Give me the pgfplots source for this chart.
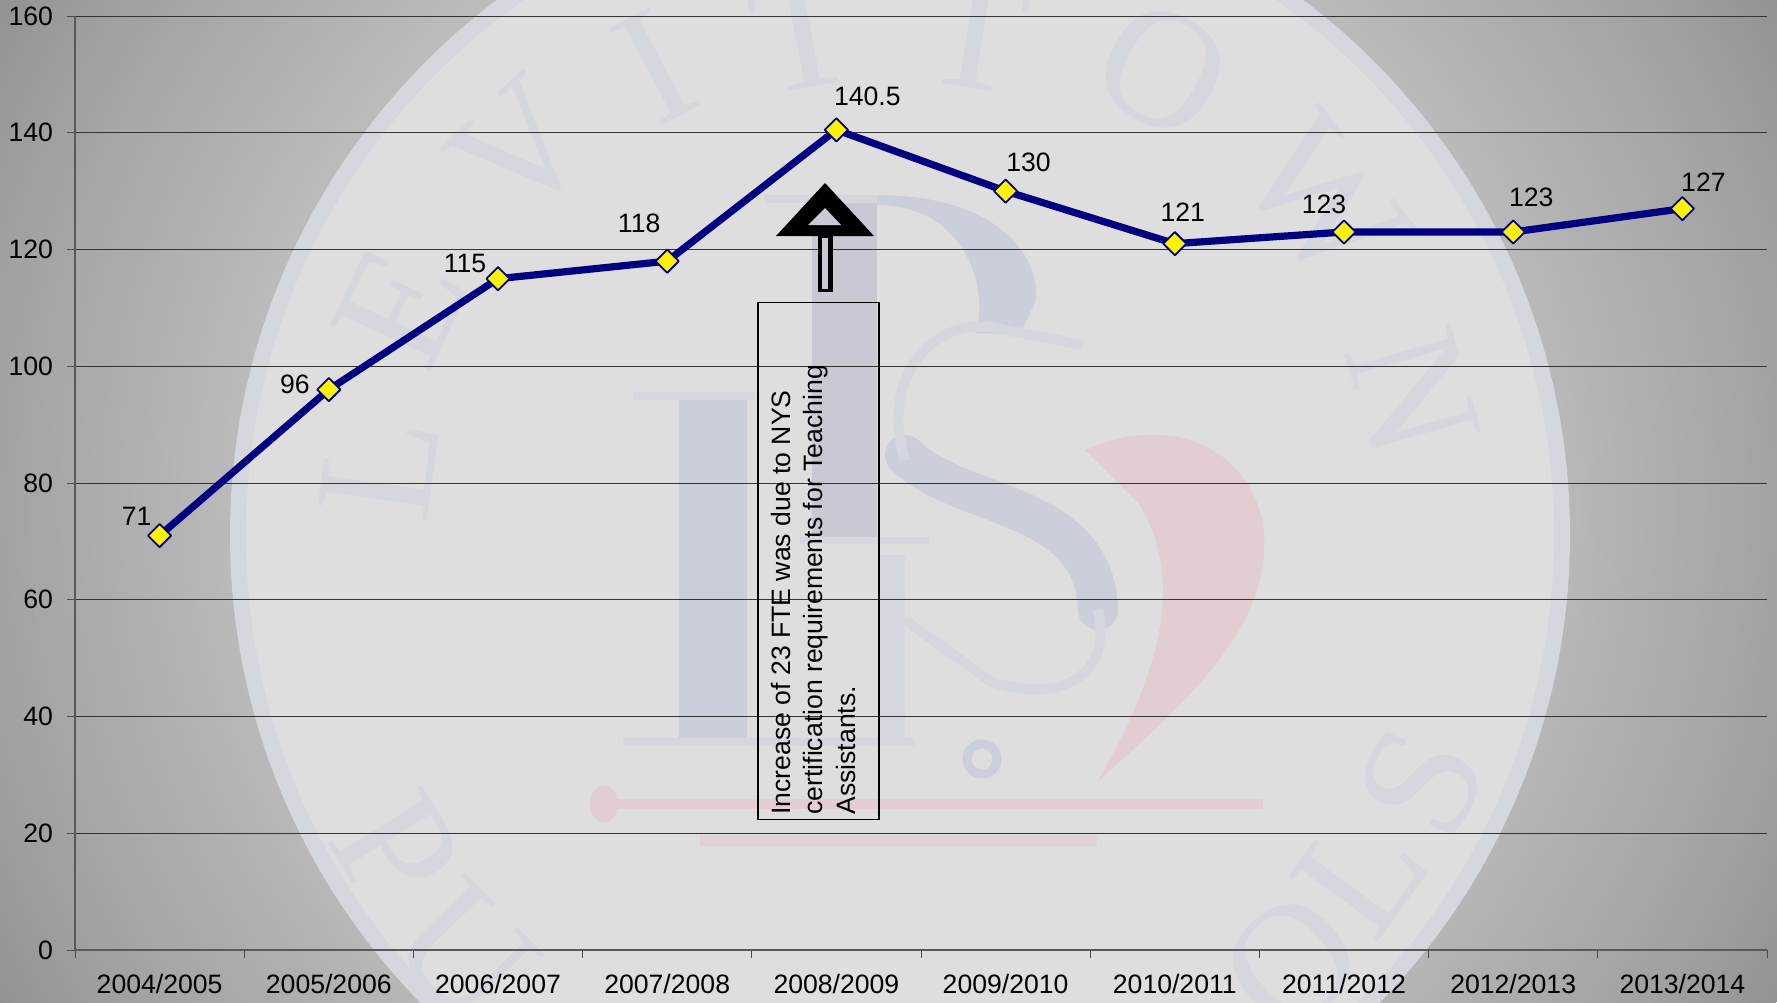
\documentclass[border=0pt]{standalone}
\usepackage{pgfplots}
\pgfplotsset{compat=1.18}
\usepackage{fontspec}
\setmainfont{Liberation Sans}
\newfontfamily\wmfont{Liberation Serif}
\usetikzlibrary{plotmarks}
\definecolor{navyl}{HTML}{000080}
\definecolor{wmblue}{HTML}{CBCFD9}
\definecolor{wmblue2}{HTML}{D5D7DE}
\definecolor{wmred}{HTML}{E2CDD0}
\definecolor{disc}{HTML}{DEDEDE}
\definecolor{arrin}{HTML}{C9C9D4}
\definecolor{bga}{HTML}{DFDFDF}
\definecolor{bgb}{HTML}{D0D0D0}
\definecolor{bgc}{HTML}{BABABA}
\definecolor{bgd}{HTML}{B2B2B2}
\definecolor{bge}{HTML}{A0A0A0}
\definecolor{bgf}{HTML}{929292}
\pgfdeclareradialshading{bgshade}{\pgfpointorigin}{%
 color(0bp)=(bga);
 color(10bp)=(bgb);
 color(16.2bp)=(bgc);
 color(17.9bp)=(bgd);
 color(22.5bp)=(bge);
 color(25bp)=(bgf);
 color(50bp)=(bgf)}
\pgfplotstableread{
x y dx dy lab
0 71 -11.5 9.5 71
1 96 -17 2.5 96
2 115 -16.5 7.5 115
3 118 -14 19 118
4 140.5 15.5 16.5 140.5
5 130 11.5 14.5 130
6 121 4 15.5 121
7 123 -10 14 123
8 123 9 17.5 123
9 127 10.5 13 127
}\datatable
\newcommand{\wm}[3]{\node[text=wmblue2,font=\wmfont\fontsize{84}{84}\selectfont,rotate=#2,inner sep=0pt] at (#1) {#3};}
\begin{document}
\begin{tikzpicture}[x=0.5pt,y=-0.5pt]
\useasboundingbox (0,0) rectangle (1777,1002);
% background
\begin{scope}
\clip (0,0) rectangle (1777,1002);
\shade[shading=bgshade] (888,501) circle (1020);
% seal
\fill[wmblue2] (900,535) circle (670);
\fill[disc] (900,535) circle (654);
\wm{379,467}{82}{L}\wm{400,307}{65}{E}\wm{521,150}{44}{V}\wm{655,67}{28}{I}
\wm{803,33}{11}{T}\wm{976,33}{-9}{T}\wm{1163,70}{-29}{O}\wm{1324,200}{-52}{W}\wm{1413,393}{-74}{N}
\wm{397,850}{-58}{P}\wm{465,952}{-46}{U}\wm{1422,782}{65}{S}\wm{1360,873}{54}{L}\wm{1292,963}{42}{O}
% L
\fill[wmblue] (679,396) rectangle (747,741);
\fill[wmblue2] (633,392) rectangle (754,400);
\fill[wmblue2] (623,738) rectangle (914,746);
\fill[wmblue2] (880,555) rectangle (905,738);
% P
\fill[arrin] (812,195) rectangle (877,537);
\fill[wmblue2] (765,195) rectangle (877,203);
\fill[wmblue2] (800,537) rectangle (930,544);
\fill[wmblue] (877,195) .. controls (990,195) and (1040,250) .. (1036,300) -- (1020,335) -- (976,333) .. controls (990,280) and (960,205) .. (877,205) -- cycle;
% S
\draw[wmblue,line width=20pt,line cap=round] (905,455) .. controls (960,510) and (1095,500) .. (1098,610);
\draw[wmblue2,line width=5pt] (905,460) .. controls (880,380) and (930,320) .. (990,327) -- (1083,345);
\draw[wmblue2,line width=5pt] (1098,610) .. controls (1115,690) and (1040,700) .. (990,681) -- (905,620);
% swoosh
\fill[wmred] (1085,450) .. controls (1150,420) and (1240,430) .. (1263,522)
  .. controls (1275,620) and (1200,690) .. (1098,781) .. controls (1150,690) and (1190,590) .. (1140,505) -- cycle;
\fill[wmred] (604,799) rectangle (1263,809);
\fill[wmred] (604,804) ellipse (14 and 18);
\fill[wmred!70!disc] (700,835) rectangle (1097,846);
\draw[wmblue,line width=4.5pt] (982,759) circle (15);
\end{scope}
\begin{axis}[
  at={(37.5pt,-475pt)},anchor=south west,scale only axis,
  width=846pt,height=467pt,
  xmin=-0.5,xmax=9.5,ymin=0,ymax=160,
  axis x line=bottom,axis y line=left,
  axis line style={-,color=black!65,line width=0.85pt},
  xtick={0,...,9},
  xticklabels={2004/2005,2005/2006,2006/2007,2007/2008,2008/2009,2009/2010,2010/2011,2011/2012,2012/2013,2013/2014},
  minor xtick={-0.5,0.5,1.5,2.5,3.5,4.5,5.5,6.5,7.5,8.5,9.5},
  major x tick style={draw=none},
  minor x tick style={color=black!70,line width=0.4pt},
  minor tick length=4pt,
  tick align=outside,
  ytick={0,20,...,160},
  major tick length=4pt,
  y tick style={color=black!70,line width=0.5pt},
  ymajorgrids,
  grid style={color=black!80,line width=0.5pt},
  tick label style={font=\fontsize{13.3}{15}\selectfont,text=black},
  /pgf/number format/assume math mode=true,
  xticklabel style={yshift=-4.5pt},
  yticklabel style={xshift=-3.5pt},
  clip=false,
]
\addplot[
  color=navyl,line width=3.6pt,line join=round,
  mark=square*,mark size=4.1pt,
  mark options={fill=yellow,draw=navyl,line width=0.9pt,solid,rotate=45},
  point meta=explicit symbolic,
  visualization depends on={\thisrow{dx}\as\dxv},
  visualization depends on={\thisrow{dy}\as\dyv},
  nodes near coords,
  nodes near coords style={anchor=center,inner sep=0pt,xshift=\dxv pt,yshift=\dyv pt,text=black,font=\fontsize{13.3}{15}\selectfont},
] table[x=x,y=y,meta=lab] {\datatable};
\end{axis}
% arrow and note
\fill[black] (825,183) -- (874,236) -- (776,236) -- cycle;
\fill[arrin] (825,208) -- (841,225) -- (808,225) -- cycle;
\fill[black] (818,236) rectangle (833,292);
\fill[arrin] (822,238) rectangle (828,289);
\draw[black,line width=0.75pt] (758,302.5) rectangle (879,819.5);
\begin{scope}[every node/.style={rotate=90,anchor=base west,inner sep=0pt,font=\fontsize{13.3}{15}\selectfont}]
\node at (790,815) {Increase of 23 FTE was due to NYS};
\node at (822,815) {certification requirements for Teaching};
\node at (855,815) {Assistants.};
\end{scope}
\end{tikzpicture}
\end{document}
